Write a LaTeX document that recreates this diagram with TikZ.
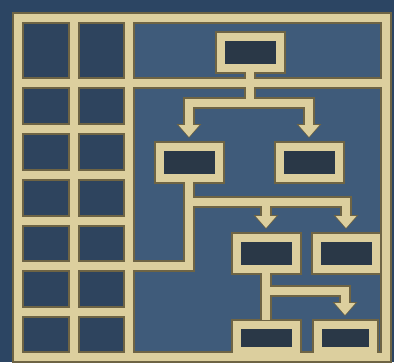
\documentclass[tikz,border=0pt]{standalone}
\usetikzlibrary{arrows.meta,calc}
\definecolor{outbg}{HTML}{2C4563}
\definecolor{areabg}{HTML}{3F5B7A}
\definecolor{cellbg}{HTML}{2E445E}
\definecolor{boxin}{HTML}{2A3847}
\definecolor{gold}{HTML}{DCCF9E}
\definecolor{goldshadow}{HTML}{6E6444}
\newcommand\drawall{%
  % grid frame
  \draw[bar] (18,18) rectangle (386,357);
  \draw[bar] (74,18) -- (74,357);
  \draw[bar] (129,18) -- (129,357);
  \draw[bar] (18,83) -- (386,83);
  \foreach \yy in {129,175,221,312} \draw[bar] (18,\yy) -- (129,\yy);
  % tree boxes
  \node[tbox] (b1) at (250,52) {};
  \node[tbox] (b2) at (189,162) {};
  \node[tbox] (b3) at (309,162) {};
  \node[tbox] (b4) at (266,253) {};
  \node[tbox] (b5) at (346,253) {};
  \node[tbox, minimum height=26pt] (b6) at (266,337.5) {};
  \node[tbox, minimum height=26pt, minimum width=55pt] (b7) at (345,337.5) {};
  % junctions
  \coordinate (j1) at (250,103);
  \coordinate (j2) at (189,202);
  \coordinate (g0) at (18,266);
  \coordinate (j3) at (266,291);
  % connectors
  \draw[bar] (b1.south) -- (j1);
  \draw[bar,tip] (j1) -| (b2.north);
  \draw[bar,tip] (j1) -| (b3.north);
  \draw[bar] (b2.south) |- (g0);
  \draw[bar,tip] (j2) -| (b4.north);
  \draw[bar,tip] (j2) -| (b5.north);
  \draw[bar] (b4.south) -- (b6.north);
  \draw[bar,tip] (j3) -| (b7.north);
}
\begin{document}
\begin{tikzpicture}[x=1pt,y=-1pt,
  tbox/.style={rectangle, minimum width=59pt, minimum height=31pt, inner sep=0pt,
    outer sep=4.5pt, fill=boxin, bar},
  pass shadow/.style={bar/.style={draw=goldshadow, line width=12pt},
    tip/.style={-{Triangle[width=24pt,length=14pt]}, shorten >=4pt}},
  pass gold/.style={bar/.style={draw=gold, line width=8pt},
    tip/.style={-{Triangle[width=20pt,length=12pt]}, shorten >=5pt}}]
  \useasboundingbox (0,0) rectangle (394,362);
  \fill[outbg] (0,0) rectangle (394,362);
  \fill[areabg] (18,18) rectangle (386,357);
  \fill[cellbg] (18,18) rectangle (129,357);
  \begin{scope}[pass shadow]\drawall\end{scope}
  \begin{scope}[pass gold]\drawall\end{scope}
\end{tikzpicture}
\end{document}
